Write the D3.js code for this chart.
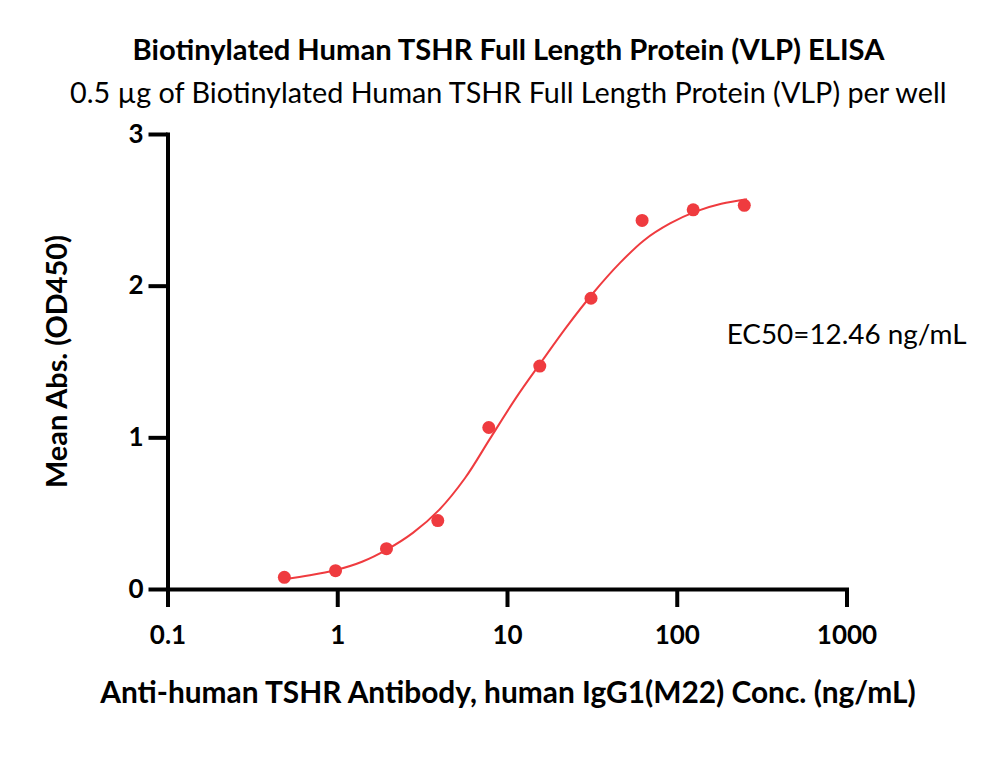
<!DOCTYPE html>
<html>
<head>
<meta charset="utf-8">
<script src="https://cdn.jsdelivr.net/npm/d3@7"></script>
<style>
  body { margin: 0; background: #fff; }
  svg { display: block; font-family: Lato, "Open Sans", sans-serif; }
</style>
</head>
<body>
<div class="chart-div"></div>
<script>
// measured points (ng/mL, OD450)
var conc = [0.488, 0.977, 1.95, 3.91, 7.81, 15.6, 31.25, 62.5, 125, 250];
var od = [0.077, 0.121, 0.266, 0.451, 1.065, 1.47, 1.917, 2.43, 2.50, 2.53];

// fitted curve
var fitConc = [0.49, 0.69, 0.98, 1.40, 1.96, 2.79, 3.97, 5.65, 7.93, 11.3, 16.0, 22.5, 32.1, 46.3, 64.3, 91.3, 130, 183, 259];
var fitOD = [0.065, 0.09, 0.125, 0.18, 0.26, 0.37, 0.52, 0.73, 0.99, 1.26, 1.50, 1.73, 1.95, 2.15, 2.30, 2.41, 2.49, 2.54, 2.57];

var xTicks = [0.1, 1, 10, 100, 1000];
var xTickLabels = ["0.1", "1", "10", "100", "1000"];
var yTicks = [0, 1, 2, 3];

var title = "Biotinylated Human TSHR Full Length Protein (VLP) ELISA";
var subtitle = "0.5 \u00b5g of Biotinylated Human TSHR Full Length Protein (VLP) per well";
var xTitle = "Anti-human TSHR Antibody, human IgG1(M22) Conc. (ng/mL)";
var yTitle = "Mean Abs. (OD450)";
var ec50Label = "EC50=12.46 ng/mL";

var w = 1000;
var h = 783;
var red = "#ef3b3f";

var svg = d3.select(".chart-div")
  .append("svg")
  .attr("width", w)
  .attr("height", h);

var x = d3.scaleLog().domain([0.1, 1000]).range([167.5, 846.5]);
var y = d3.scaleLinear().domain([0, 3]).range([589, 134]);

// scale a text's font size so it fills a given width
function fit(sel, width) {
  var size = parseFloat(sel.attr("font-size"));
  var len = sel.node().getComputedTextLength();
  sel.attr("font-size", size * width / len);
  return sel;
}

// axes
var xAxis = svg.append("g")
  .attr("transform", "translate(0," + y(0) + ")")
  .call(d3.axisBottom(x)
    .tickValues(xTicks)
    .tickFormat(function(d, i) { return xTickLabels[i]; })
    .tickSize(18)
    .tickSizeOuter(0)
    .tickPadding(19));

var yAxis = svg.append("g")
  .attr("transform", "translate(" + x(0.1) + ",0)")
  .call(d3.axisLeft(y)
    .tickValues(yTicks)
    .tickFormat(d3.format("d"))
    .tickSize(19)
    .tickSizeOuter(0)
    .tickPadding(5));

[xAxis, yAxis].forEach(function(g) {
  g.select(".domain").attr("stroke", "#000").attr("stroke-width", 4).attr("stroke-linecap", "square");
  g.selectAll(".tick line").attr("stroke", "#000").attr("stroke-width", 4);
  g.selectAll(".tick text")
    .attr("fill", "#000")
    .attr("font-family", "Lato")
    .attr("font-weight", "bold")
    .attr("font-size", 26);
});

// fitted curve
var line = d3.line()
  .x(function(d, i) { return x(fitConc[i]); })
  .y(function(d) { return y(d); })
  .curve(d3.curveCatmullRom.alpha(0.5));

svg.append("path")
  .datum(fitOD)
  .attr("d", line)
  .attr("fill", "none")
  .attr("stroke", red)
  .attr("stroke-width", 2);

// data points
svg.selectAll("circle.pt")
  .data(od)
  .enter()
  .append("circle")
  .attr("class", "pt")
  .attr("cx", function(d, i) { return x(conc[i]); })
  .attr("cy", function(d) { return y(d); })
  .attr("r", 6.5)
  .attr("fill", red);

// titles
fit(svg.append("text")
  .attr("x", 508.5).attr("y", 60)
  .attr("text-anchor", "middle")
  .attr("font-weight", "bold")
  .attr("font-size", 22)
  .text(title), 752);

fit(svg.append("text")
  .attr("x", 508.3).attr("y", 102.5)
  .attr("text-anchor", "middle")
  .attr("font-size", 24)
  .text(subtitle), 877);

fit(svg.append("text")
  .attr("x", 508).attr("y", 702.5)
  .attr("text-anchor", "middle")
  .attr("font-weight", "bold")
  .attr("font-size", 24)
  .text(xTitle), 816);

fit(svg.append("text")
  .attr("transform", "translate(67,361.5) rotate(-90)")
  .attr("text-anchor", "middle")
  .attr("font-weight", "bold")
  .attr("font-size", 26)
  .text(yTitle), 253);

fit(svg.append("text")
  .attr("x", 726.7).attr("y", 344.3)
  .attr("font-size", 24)
  .text(ec50Label), 240);
</script>
</body>
</html>
